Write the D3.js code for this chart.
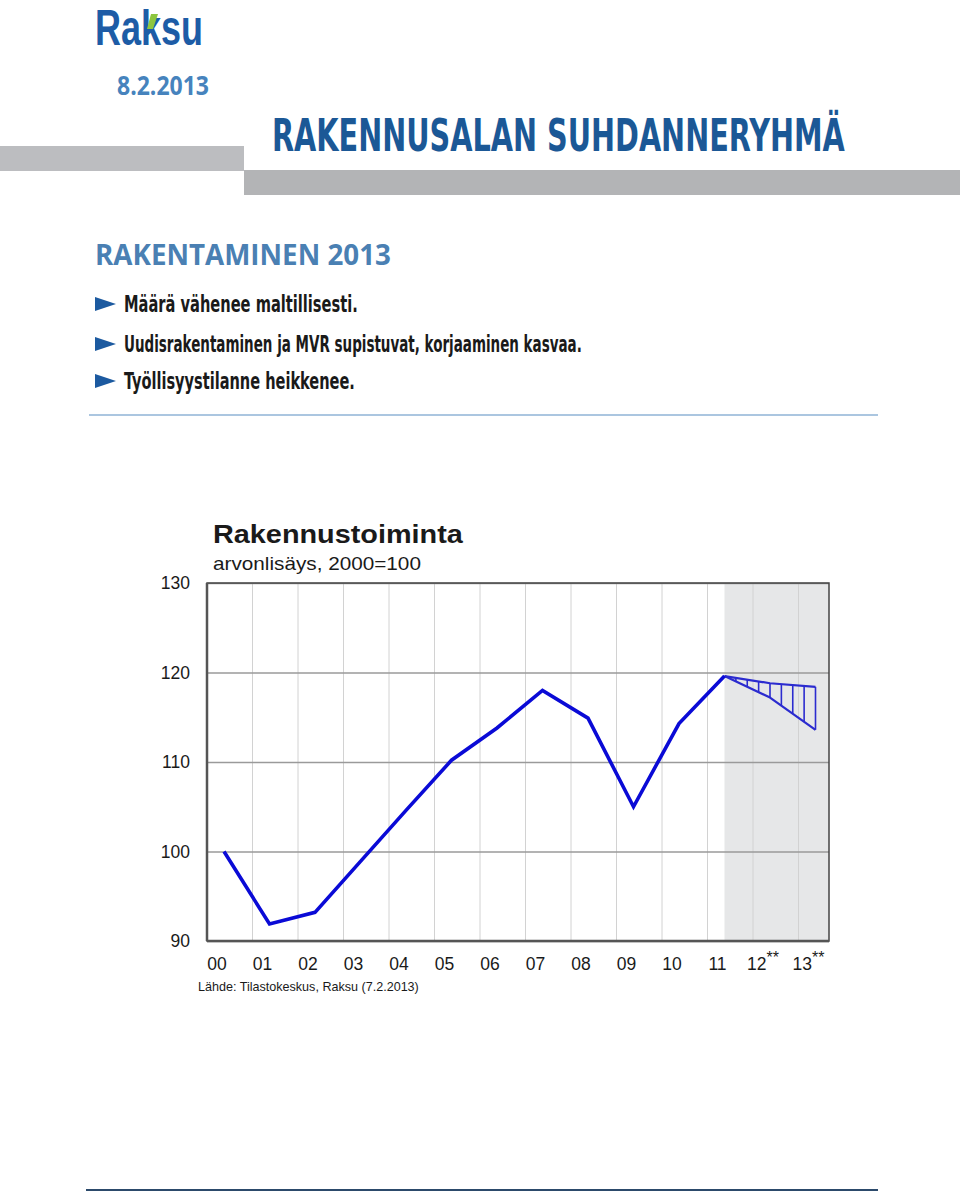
<!DOCTYPE html>
<html><head><meta charset="utf-8">
<script src="https://cdn.jsdelivr.net/npm/d3@7"></script>
<style>html,body{margin:0;padding:0;background:#fff;}</style>
</head><body>
<script>
// ---- data ----
const years = ["00","01","02","03","04","05","06","07","08","09","10","11","12","13"];
const yearStars = ["","","","","","","","","","","","","**","**"];
const actual = [100, 91.9, 93.2, 98.9, 104.6, 110.2, 113.8, 118.0, 114.9, 105.0, 114.3, 119.6];
const forecastYears = ["11","12","13"];
const forecastHigh = [119.6, 118.8, 118.4];
const forecastLow = [119.6, 117.2, 113.6];
const yTicks = [90, 100, 110, 120, 130];
const bullets = ["Määrä vähenee maltillisesti.", "Uudisrakentaminen ja MVR supistuvat, korjaaminen kasvaa.", "Työllisyystilanne heikkenee."];

(function () {
const W = 960, H = 1196;
const svg = d3.select("body").append("svg").attr("width", W).attr("height", H);

const cond = "'Liberation Sans Narrow','DejaVu Sans Condensed','Roboto','Open Sans',sans-serif";

// text squeezed horizontally to a target width via transform
function fitText(str, x0, y0, width, attrs) {
  const t = svg.append("text").text(str);
  Object.entries(attrs).forEach(([k, v]) => t.attr(k, v));
  const len = t.node().getComputedTextLength();
  t.attr("transform", `translate(${x0},${y0}) scale(${width / len},1)`);
  return t;
}

// ---- header ----
fitText("Raksu", 95, 45, 108, {"font-family": "Arial,'Liberation Sans',sans-serif", "font-weight": 700, "font-size": 50, "fill": "#1d5ca6"});
svg.append("path").attr("d", "M151,14 L158,14 L153,29 L147,29 Z").attr("fill", "#8dc63f");

fitText("8.2.2013", 117, 95, 92, {"font-family": "'Open Sans',sans-serif", "font-weight": 700, "font-size": 26, "fill": "#4683bd"});

svg.append("rect").attr("x", 0).attr("y", 146).attr("width", 244).attr("height", 25).attr("fill", "#bcbdc0");
svg.append("rect").attr("x", 244).attr("y", 170).attr("width", 716).attr("height", 25).attr("fill", "#b3b4b6");

fitText("RAKENNUSALAN SUHDANNERYHMÄ", 272, 151, 573, {"font-family": cond, "font-weight": 700, "font-size": 45, "fill": "#1b5896"});

fitText("RAKENTAMINEN 2013", 95, 265, 296, {"font-family": "'Open Sans',sans-serif", "font-weight": 700, "font-size": 29, "fill": "#4a80b3"});

const bulletY = [304, 344, 381];
const bulletW = [234, 458, 231];
bullets.forEach((b, i) => {
  const cy = bulletY[i];
  svg.append("path").attr("d", `M95,${cy-7} L116,${cy} L95,${cy+7} Z`).attr("fill", "#1c5aa0");
  fitText(b, 124, cy + 8, bulletW[i], {"font-family": cond, "font-weight": 700, "font-size": 23, "fill": "#1a1a1a"});
});

svg.append("line").attr("x1", 89).attr("x2", 878).attr("y1", 415).attr("y2", 415)
  .attr("stroke", "#8fb3d6").attr("stroke-width", 1.5);
svg.append("line").attr("x1", 86).attr("x2", 878).attr("y1", 1190).attr("y2", 1190)
  .attr("stroke", "#2c4a6b").attr("stroke-width", 2);

// ---- chart ----
const pL = 207, pR = 829, pT = 583, pB = 941;
const step = 45.5;
const x = d3.scalePoint().domain(years).range([224, 224 + step * (years.length - 1)]);
const y = d3.scaleLinear().domain([90, 130]).range([pB, pT]);

// shaded forecast zone
svg.append("rect").attr("x", x("11")).attr("y", pT).attr("width", pR - x("11")).attr("height", pB - pT)
  .attr("fill", "#e6e7e8");

// vertical gridlines (category boundaries)
const vgrid = d3.range(1, 14).map(k => pL + step * k).filter(v => v < pR);
svg.append("g").selectAll("line").data(vgrid).join("line")
  .attr("x1", d => d).attr("x2", d => d).attr("y1", pT).attr("y2", pB)
  .attr("stroke", "#d2d2d2").attr("stroke-width", 1);

// horizontal gridlines via axis
const yAxis = svg.append("g").attr("transform", `translate(${pL},0)`)
  .call(d3.axisLeft(y).tickValues(yTicks).tickSize(-(pR - pL)).tickPadding(17).tickFormat(d3.format("d")));
yAxis.select(".domain").remove();
yAxis.selectAll(".tick line").attr("stroke", "#9a9a9a").attr("stroke-width", 1.5);
yAxis.selectAll(".tick text").attr("font-family", "Arial, 'Liberation Sans', sans-serif").attr("font-size", 17.5).attr("fill", "#1a1a1a");

// frame
svg.append("rect").attr("x", pL).attr("y", pT).attr("width", pR - pL).attr("height", pB - pT)
  .attr("fill", "none").attr("stroke", "#444").attr("stroke-width", 1.5);
svg.append("line").attr("x1", pL).attr("x2", pL).attr("y1", pT).attr("y2", pB).attr("stroke", "#555").attr("stroke-width", 2.5);
svg.append("line").attr("x1", pL).attr("x2", pR).attr("y1", pB).attr("y2", pB).attr("stroke", "#555").attr("stroke-width", 2.5);

// forecast fan with hatching
const fLine = d3.line().x((d, i) => x(forecastYears[i])).y(d => y(d));
const interp = (arr, px) => {
  const xs = forecastYears.map(v => x(v));
  for (let i = 0; i < xs.length - 1; i++) {
    if (px >= xs[i] - 0.01 && px <= xs[i + 1] + 0.01) {
      const t = (px - xs[i]) / (xs[i + 1] - xs[i]);
      return arr[i] + t * (arr[i + 1] - arr[i]);
    }
  }
  return arr[arr.length - 1];
};
const hatchX = d3.range(1, 9).map(k => x("11") + k * step / 4);
svg.append("g").selectAll("line").data(hatchX).join("line")
  .attr("x1", d => d).attr("x2", d => d)
  .attr("y1", d => y(interp(forecastHigh, d))).attr("y2", d => y(interp(forecastLow, d)))
  .attr("stroke", "#2b2bcf").attr("stroke-width", 1.6);
[forecastHigh, forecastLow].forEach(arr => {
  svg.append("path").attr("d", fLine(arr)).attr("fill", "none")
    .attr("stroke", "#2b2bcf").attr("stroke-width", 2.2).attr("stroke-linejoin", "round");
});

// actual line
const line = d3.line().x((d, i) => x(years[i])).y(d => y(d));
svg.append("path").attr("d", line(actual)).attr("fill", "none")
  .attr("stroke", "#0a0ad6").attr("stroke-width", 3.6).attr("stroke-linejoin", "miter");

// x labels
const xl = svg.append("g").selectAll("text").data(years).join("text")
  .attr("x", d => x(d) - 7).attr("y", 970).attr("text-anchor", "middle")
  .attr("font-family", "Arial, 'Liberation Sans', sans-serif").attr("font-size", 17.5).attr("fill", "#1a1a1a");
xl.append("tspan").text(d => d);
xl.append("tspan").attr("dy", -7).attr("font-size", 16).text((d, i) => yearStars[i]);

// titles
fitText("Rakennustoiminta", 213, 543, 250, {"font-family": "Arial, 'Liberation Sans', sans-serif", "font-weight": 700, "font-size": 26, "fill": "#1a1a1a"});
fitText("arvonlisäys, 2000=100", 213, 570, 208, {"font-family": "Arial, 'Liberation Sans', sans-serif", "font-size": 19, "fill": "#1a1a1a"});
fitText("Lähde: Tilastokeskus, Raksu (7.2.2013)", 198, 991, 221, {"font-family": "Arial, 'Liberation Sans', sans-serif", "font-size": 13, "fill": "#1a1a1a"});
})();
</script>
</body></html>
